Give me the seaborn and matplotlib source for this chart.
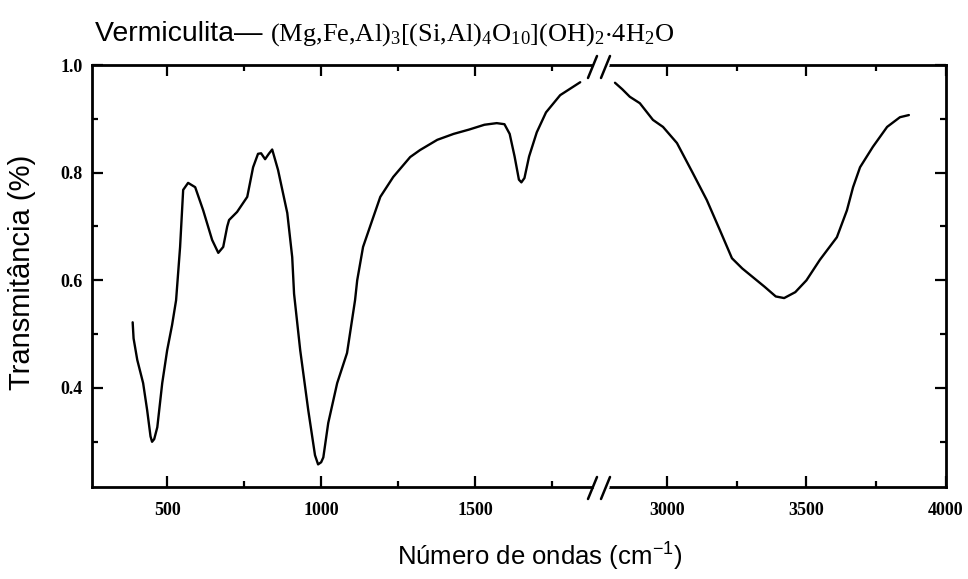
import matplotlib
matplotlib.use("Agg")
import matplotlib.pyplot as plt
from matplotlib.lines import Line2D
from matplotlib.ticker import MultipleLocator, FixedLocator
import seaborn as sns
import pandas as pd

# FTIR spectrum of vermiculite, low wavenumber region (cm-1, transmittance)
low_wavenumber = [388, 391, 403, 422, 435, 446, 451, 458, 468, 484, 500, 516, 529,
                  542, 552, 568, 591, 617, 646, 666, 682, 695, 701, 727, 760, 779,
                  795, 805, 818, 830, 841, 860, 890, 906, 912, 932, 958, 980, 990,
                  1000, 1007, 1023, 1052, 1084, 1110, 1117, 1136, 1166, 1192, 1234,
                  1289, 1321, 1377, 1430, 1480, 1530, 1570, 1595, 1612, 1628, 1642,
                  1650, 1660, 1675, 1700, 1730, 1776, 1841]
low_transmittance = [0.522, 0.492, 0.452, 0.409, 0.359, 0.310, 0.300, 0.305, 0.327,
                     0.409, 0.470, 0.517, 0.563, 0.662, 0.768, 0.781, 0.773, 0.730,
                     0.675, 0.651, 0.662, 0.700, 0.712, 0.727, 0.755, 0.810, 0.835,
                     0.836, 0.825, 0.835, 0.843, 0.805, 0.725, 0.643, 0.575, 0.470,
                     0.359, 0.275, 0.258, 0.262, 0.271, 0.335, 0.409, 0.465, 0.563,
                     0.600, 0.662, 0.712, 0.755, 0.792, 0.829, 0.842, 0.861, 0.872,
                     0.880, 0.889, 0.892, 0.890, 0.872, 0.830, 0.787, 0.782, 0.790,
                     0.830, 0.875, 0.912, 0.944, 0.968]

# High wavenumber region (O-H stretching)
high_wavenumber = [2814, 2840, 2867, 2903, 2950, 2986, 3036, 3093, 3143, 3190, 3233,
                   3270, 3310, 3350, 3390, 3420, 3460, 3500, 3548, 3609, 3645, 3667,
                   3692, 3738, 3789, 3835, 3867]
high_transmittance = [0.967, 0.955, 0.941, 0.929, 0.898, 0.885, 0.855, 0.799, 0.749,
                      0.693, 0.641, 0.622, 0.605, 0.588, 0.570, 0.567, 0.578, 0.600,
                      0.638, 0.680, 0.730, 0.773, 0.810, 0.848, 0.885, 0.903, 0.907]

low_ticks = [500, 1000, 1500]
high_ticks = [3000, 3500, 4000]
y_ticks = [0.4, 0.6, 0.8, 1.0]

title_name = "Vermiculita\u2014 "
title_formula = r"$\mathregular{(Mg{,}Fe{,}Al)_3[(Si{,}Al)_4O_{10}](OH)_2{\cdot}4H_2O}$"
x_label = r"Número de ondas (cm$^{\mathregular{-1}}$)"
y_label = "Transmitância (%)"

sns.set_theme(style="ticks")
plt.rcParams["font.family"] = ["Liberation Sans", "DejaVu Sans"]
plt.rcParams["text.color"] = "black"
plt.rcParams["axes.labelcolor"] = "black"
plt.rcParams["xtick.color"] = "black"
plt.rcParams["ytick.color"] = "black"

W, H = 968, 579
fig = plt.figure(figsize=(W / 100, H / 100), dpi=100)
L, R, T, B = 92, 946, 65, 487
gs = fig.add_gridspec(1, 2, width_ratios=[603 - L, R - 603], wspace=0,
                      left=L / W, right=R / W, top=1 - T / H, bottom=1 - B / H)
ax1 = fig.add_subplot(gs[0])
ax2 = fig.add_subplot(gs[1], sharey=ax1)

low = pd.DataFrame({"wn": low_wavenumber, "T": low_transmittance})
high = pd.DataFrame({"wn": high_wavenumber, "T": high_transmittance})
sns.lineplot(data=low, x="wn", y="T", ax=ax1, color="black", lw=1.7, sort=False)
sns.lineplot(data=high, x="wn", y="T", ax=ax2, color="black", lw=1.7, sort=False)

ax1.set_xlim(256, 1915)
ax2.set_xlim(2771, 4000)
ax1.set_ylim(0.216, 1.0)

tick_font = dict(family=["Liberation Serif", "DejaVu Serif"], weight="bold", size=13,
                 color="black")

for ax in (ax1, ax2):
    ax.set_xlabel("")
    ax.set_ylabel("")
    for s in ax.spines.values():
        s.set_linewidth(2.0)
        s.set_color("black")
    ax.tick_params(which="major", direction="in", length=8, width=1.6,
                   top=True, bottom=True, color="black", pad=11)
    ax.tick_params(which="minor", direction="in", length=4.5, width=1.6,
                   top=True, bottom=True, color="black")

ax1.xaxis.set_major_locator(FixedLocator(low_ticks))
ax1.xaxis.set_minor_locator(FixedLocator([750, 1250, 1750]))
ax2.xaxis.set_major_locator(FixedLocator(high_ticks))
ax2.xaxis.set_minor_locator(FixedLocator([3250, 3750]))
ax1.yaxis.set_major_locator(FixedLocator(y_ticks))
ax1.yaxis.set_minor_locator(MultipleLocator(0.1))

ax1.spines["right"].set_visible(False)
ax2.spines["left"].set_visible(False)
ax1.tick_params(axis="y", which="both", left=True, right=False, pad=7)
ax2.tick_params(axis="y", which="both", left=False, right=True, labelleft=False)

ax1.set_xticklabels([str(t) for t in low_ticks], **tick_font)
ax2.set_xticklabels([str(t) for t in high_ticks], **tick_font)
ax1.set_yticklabels([f"{t:.1f}" for t in y_ticks], **tick_font)


def fx(px):
    return px / W


def fy(py):
    return 1 - py / H


# axis break marks
for yb, y0, y1 in ((T, T + 13, T - 9), (B, B + 12, B - 10)):
    fig.add_artist(Line2D([fx(596), fx(607)], [fy(yb), fy(yb)], color="white",
                          lw=4, transform=fig.transFigure, zorder=5))
    for xs in (588, 601):
        fig.add_artist(Line2D([fx(xs), fx(xs + 9)], [fy(y0), fy(y1)], color="black",
                              lw=1.8, transform=fig.transFigure, zorder=6))

fig.text(fx(22), fy(272), y_label, rotation=90, ha="center", va="center",
         fontsize=21, family=["Liberation Sans", "DejaVu Sans"])
fig.text(fx(540), fy(556), x_label, ha="center", va="center",
         fontsize=18.5, family=["Liberation Sans", "DejaVu Sans"])

t1 = fig.text(fx(95), fy(41), title_name, ha="left", va="baseline", fontsize=20.5,
              family=["Liberation Sans", "DejaVu Sans"])
fig.canvas.draw()
bb = t1.get_window_extent(renderer=fig.canvas.get_renderer())
fig.text(bb.x1 / W, fy(41), title_formula, ha="left", va="baseline",
         fontsize=19, family=["Liberation Serif", "DejaVu Serif"])

fig.savefig("out.png", dpi=100)
